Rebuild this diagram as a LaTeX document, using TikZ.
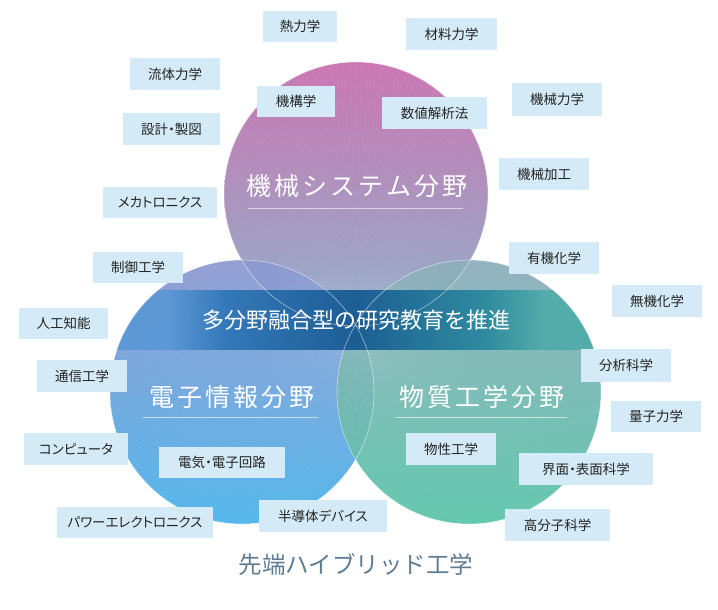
\documentclass[tikz,border=0pt]{standalone}
\usepackage{fontspec}
\newfontfamily\jp[RawFeature=+palt]{Noto Sans CJK JP}
\newfontfamily\jpt[LetterSpace=12]{Noto Sans CJK JP}
\newfontfamily\jpn{Noto Sans CJK JP}
\definecolor{boxc}{RGB}{212,234,247}
\definecolor{labtxt}{RGB}{35,35,35}
\definecolor{tTop}{RGB}{203,118,178}
\definecolor{tMid}{RGB}{188,136,186}
\definecolor{tBot}{RGB}{140,172,200}
\definecolor{lTop}{RGB}{140,150,207}
\definecolor{lMid}{RGB}{68,154,222}
\definecolor{lBot}{RGB}{72,178,234}
\definecolor{rTop}{RGB}{140,172,186}
\definecolor{rMid}{RGB}{62,174,164}
\definecolor{rBot}{RGB}{88,196,168}
\definecolor{bandL}{RGB}{90,152,214}
\definecolor{bandL2}{RGB}{45,116,182}
\definecolor{bandN}{RGB}{20,88,144}
\definecolor{bandR2}{RGB}{40,136,158}
\definecolor{bandR}{RGB}{80,172,170}
\definecolor{foot}{RGB}{94,124,146}
\pgfdeclarehorizontalshading{bandsh}{100bp}{color(0bp)=(bandL); color(25bp)=(bandL); color(31bp)=(bandL); color(37bp)=(bandL2); color(50bp)=(bandN); color(63bp)=(bandR2); color(69bp)=(bandR); color(75bp)=(bandR); color(100bp)=(bandR)}
\begin{document}
\begin{tikzpicture}[x=1pt,y=-1pt,
  lab/.style={fill=boxc, inner sep=0pt, text=labtxt, font={\jp\fontsize{13.5pt}{15pt}\selectfont}},
  field/.style={text=white, inner sep=0pt, font={\jpt\fontsize{25pt}{28pt}\selectfont}},
  uline/.style={white, opacity=0.6, line width=0.8pt},
  ring/.style={white, opacity=0.55, line width=0.6pt}]
\useasboundingbox (0,0) rectangle (718,610);
\coordinate (cT) at (356,194);
\coordinate (cL) at (242,392);
\coordinate (cR) at (469,392);
\coordinate (hub) at (356,320);
% circles
\shade[top color=tTop, middle color=tMid, bottom color=tBot] (cT) circle (132pt);
\shade[top color=lTop, middle color=lMid, bottom color=lBot, opacity=0.94] (cL) circle (132pt);
\shade[top color=rTop, middle color=rMid, bottom color=rBot, opacity=0.94] (cR) circle (132pt);
\begin{scope}
  \clip (cT) circle (132pt) (cL) circle (132pt) (cR) circle (132pt);
  \foreach \a in {0,0.8,...,359.2}
    \draw[white, opacity=0.12, line width=0.3pt] (hub) ++(\a:20pt) -- ++(\a:380pt);
  \shade[shading=bandsh, opacity=0.93] (108,290) rectangle (604,349);
\end{scope}
\draw[ring] (cT) circle (132pt);
\draw[ring] (cL) circle (132pt);
\draw[ring] (cR) circle (132pt);
% titles
\node[field] (mech) at (357,186) {機械システム分野};
\draw[uline] (248,208) -- (463,208);
\node[field] (elec) at (232,397) {電子情報分野};
\draw[uline] (143,417) -- (318,417);
\node[field] (matl) at (482,397) {物質工学分野};
\draw[uline] (395,417) -- (567,417);
\node[text=white, inner sep=0pt, font={\jpn\fontsize{22pt}{24pt}\selectfont}] (band) at (356,320) {多分野融合型の研究教育を推進};
\node[text=foot, inner sep=0pt, font={\jpn\fontsize{23.5pt}{26pt}\selectfont}] (foot) at (356,564) {先端ハイブリッド工学};
% labels
\node[lab, minimum width=74pt, minimum height=31pt] (l1) at (300,26.5) {熱力学};
\node[lab, minimum width=91pt, minimum height=32pt] (l2) at (451.5,34) {材料力学};
\node[lab, minimum width=90pt, minimum height=32pt] (l3) at (175,74) {流体力学};
\node[lab, minimum width=78pt, minimum height=31pt] (l4) at (296,101.5) {機構学};
\node[lab, minimum width=105pt, minimum height=31pt] (l5) at (434.5,113) {数値解析法};
\node[lab, minimum width=90pt, minimum height=33pt] (l6) at (557,99.5) {機械力学};
\node[lab, minimum width=97pt, minimum height=32pt] (l7) at (171.5,129) {設計・製図};
\node[lab, minimum width=90pt, minimum height=32pt] (l8) at (544,174) {機械加工};
\node[lab, minimum width=114pt, minimum height=31pt] (l9) at (160,202.5) {メカトロニクス};
\node[lab, minimum width=90pt, minimum height=31pt] (l10) at (138,267.5) {制御工学};
\node[lab, minimum width=90pt, minimum height=32pt] (l11) at (554,258) {有機化学};
\node[lab, minimum width=90pt, minimum height=32pt] (l12) at (657,301) {無機化学};
\node[lab, minimum width=89pt, minimum height=31pt] (l13) at (63.5,323.5) {人工知能};
\node[lab, minimum width=90pt, minimum height=33pt] (l14) at (626,365.5) {分析科学};
\node[lab, minimum width=90pt, minimum height=32pt] (l15) at (82,376) {通信工学};
\node[lab, minimum width=90pt, minimum height=31pt] (l16) at (656,416.5) {量子力学};
\node[lab, minimum width=104pt, minimum height=32pt] (l17) at (76,449) {コンピュータ};
\node[lab, minimum width=90pt, minimum height=32pt] (l18) at (451,449) {物性工学};
\node[lab, minimum width=126pt, minimum height=31pt] (l19) at (222,462.5) {電気・電子回路};
\node[lab, minimum width=134pt, minimum height=32pt] (l20) at (586,469) {界面・表面科学};
\node[lab, minimum width=105pt, minimum height=32pt] (l21) at (557.5,525) {高分子科学};
\node[lab, minimum width=156pt, minimum height=31pt] (l22) at (135,522.5) {パワーエレクトロニクス};
\node[lab, minimum width=128pt, minimum height=32pt] (l23) at (323,516) {半導体デバイス};
\end{tikzpicture}
\end{document}
